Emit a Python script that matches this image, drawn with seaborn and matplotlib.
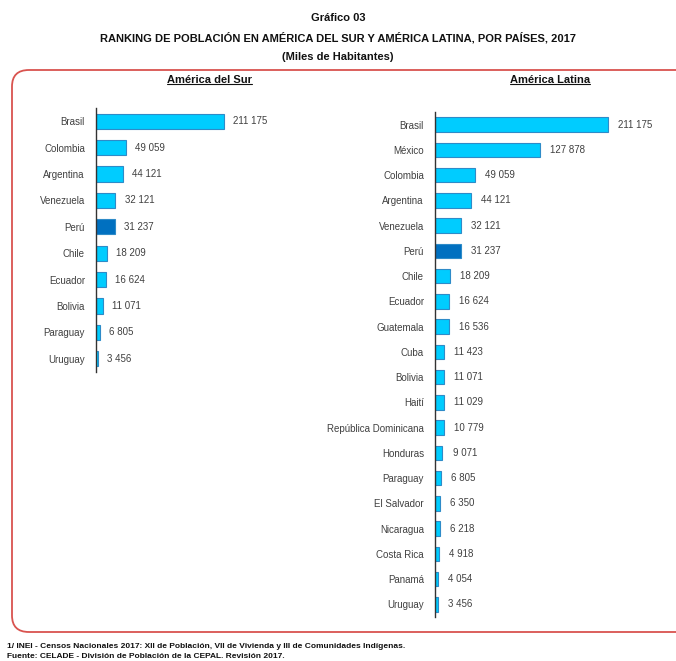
import matplotlib
matplotlib.use("Agg")
import matplotlib.pyplot as plt
import seaborn as sns
import pandas as pd
from matplotlib.patches import FancyBboxPatch
from matplotlib.lines import Line2D

sns.set_theme(style="white")
plt.rcParams['font.family'] = ['Liberation Sans Narrow', 'Liberation Sans', 'DejaVu Sans']

sur_countries = ["Brasil", "Colombia", "Argentina", "Venezuela", "Perú", "Chile",
                 "Ecuador", "Bolivia", "Paraguay", "Uruguay"]
sur_values = [211175, 49059, 44121, 32121, 31237, 18209, 16624, 11071, 6805, 3456]

lat_countries = ["Brasil", "México", "Colombia", "Argentina", "Venezuela", "Perú", "Chile",
                 "Ecuador", "Guatemala", "Cuba", "Bolivia", "Haití", "República Dominicana",
                 "Honduras", "Paraguay", "El Salvador", "Nicaragua", "Costa Rica", "Panamá",
                 "Uruguay"]
lat_values = [211175, 127878, 49059, 44121, 32121, 31237, 18209, 16624, 16536, 11423,
              11071, 11029, 10779, 9071, 6805, 6350, 6218, 4918, 4054, 3456]

LIGHT = "#00CCFF"
DARK = "#0070C0"
EDGE = "#2E8BC8"
TXT = "#404040"

fig = plt.figure(figsize=(6.76, 6.61), dpi=100)

# rounded frame
frame = FancyBboxPatch((12/676, 1-632/661), 700/676, (632-70)/661,
                       boxstyle="round,pad=0,rounding_size=0.025",
                       transform=fig.transFigure, facecolor="none",
                       edgecolor="#D9534F", linewidth=1.3, zorder=0)
fig.patches.append(frame)

def fmt(v):
    return f"{v:,}".replace(",", " ")

def panel(rect, countries, values, xmax, bar_h):
    ax = fig.add_axes(rect)
    df = pd.DataFrame({"pais": countries, "val": values})
    pal = {c: (DARK if c == "Perú" else LIGHT) for c in countries}
    sns.barplot(data=df, y="pais", x="val", hue="pais", palette=pal, legend=False,
                orient="h", width=bar_h, edgecolor=EDGE, linewidth=0.8, saturation=1, ax=ax)
    n = len(countries)
    ax.set_xlim(0, xmax)
    ax.set_ylim(n - 0.5, -0.5)
    ax.set_xlabel("")
    ax.set_ylabel("")
    ax.set_xticks([])
    for s in ["top", "right", "bottom"]:
        ax.spines[s].set_visible(False)
    ax.spines["left"].set_color("#333333")
    ax.spines["left"].set_linewidth(1.0)
    ax.tick_params(axis="y", which="major", length=0, labelsize=7, labelcolor=TXT, pad=8)
    ax.set_yticks(range(n), countries)
    ax.set_yticks([i - 0.5 for i in range(n + 1)], minor=True)
    ax.tick_params(axis="y", which="minor", length=3, width=0.8, color="#333333", direction="out")
    ax.set_facecolor("none")
    for i, v in enumerate(values):
        ax.text(v + xmax * 0.045, i, fmt(v), va="center", ha="left", fontsize=7, color=TXT)
    return ax

panel([96/676, 1-372/661, 204/676, 264/661], sur_countries, sur_values, 336600, 0.58)
panel([435/676, 1-617/661, 225/676, 505/661], lat_countries, lat_values, 274650, 0.58)

# titles
fig.text(338/676, 1-18/661, "Gráfico 03", ha="center", va="center", fontsize=8, fontweight="bold", color="#111111")
fig.text(338/676, 1-38/661, "RANKING DE POBLACIÓN EN AMÉRICA DEL SUR Y AMÉRICA LATINA, POR PAÍSES, 2017",
         ha="center", va="center", fontsize=8, fontweight="bold", color="#111111")
fig.text(338/676, 1-57/661, "(Miles de Habitantes)", ha="center", va="center", fontsize=8, fontweight="bold", color="#111111")

subs = []
subs.append(fig.text(210/676, 1-80/661, "América del Sur", ha="center", va="center", fontsize=8, fontweight="bold", color="#111111"))
subs.append(fig.text(550/676, 1-80/661, "América Latina", ha="center", va="center", fontsize=8, fontweight="bold", color="#111111"))

fig.text(7/676, 1-646/661, "1/ INEI - Censos Nacionales 2017: XII de Población, VII de Vivienda y III de Comunidades Indígenas.",
         ha="left", va="center", fontsize=6, fontweight="bold", color="#111111")
fig.text(7/676, 1-657/661, "Fuente: CELADE - División de Población de la CEPAL. Revisión 2017.",
         ha="left", va="center", fontsize=6, fontweight="bold", color="#111111")

# underline subtitles
fig.canvas.draw()
r = fig.canvas.get_renderer()
inv = fig.transFigure.inverted()
for t in subs:
    bb = t.get_window_extent(renderer=r)
    (x0, y0), (x1, y1) = inv.transform([(bb.x0, bb.y0), (bb.x1, bb.y1)])
    fig.add_artist(Line2D([x0, x1], [y0 + 0.001, y0 + 0.001], transform=fig.transFigure,
                          color="#111111", linewidth=0.8))

fig.savefig("out.png", dpi=100)
